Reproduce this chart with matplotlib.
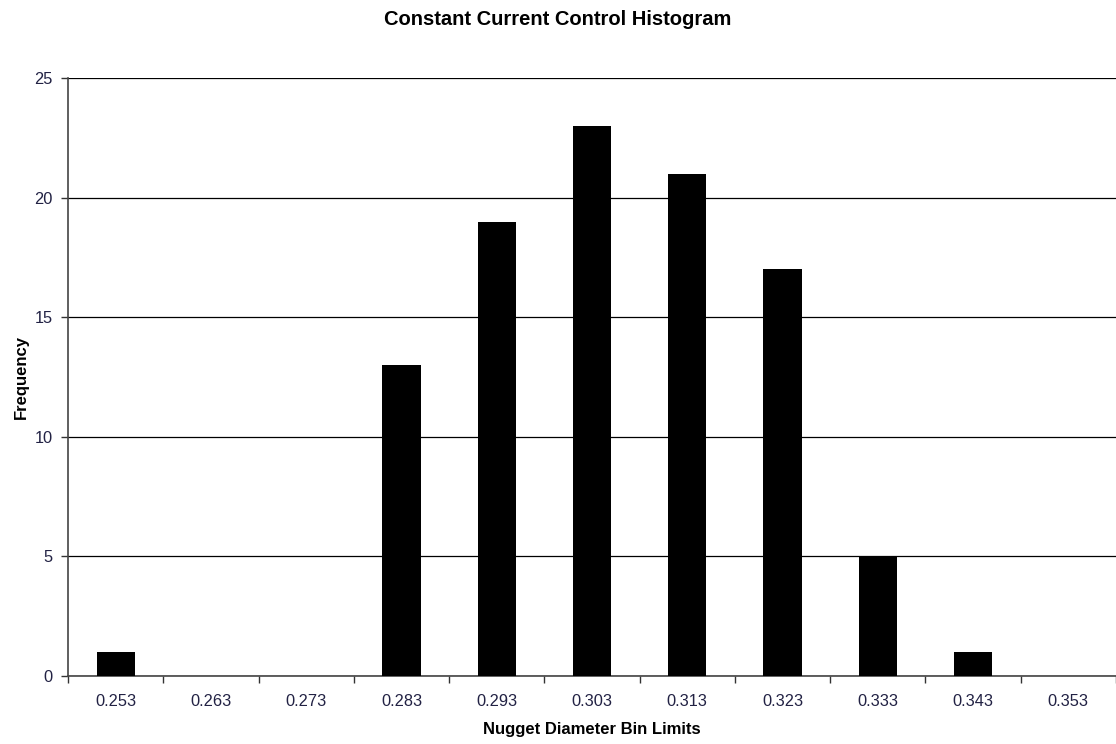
import matplotlib
matplotlib.use("Agg")
import matplotlib.pyplot as plt
import numpy as np

bins = ["0.253", "0.263", "0.273", "0.283", "0.293", "0.303", "0.313", "0.323", "0.333", "0.343", "0.353"]
freq = [1, 0, 0, 13, 19, 23, 21, 17, 5, 1, 0]

plt.rcParams['font.family'] = ['Liberation Sans', 'DejaVu Sans']

fig = plt.figure(figsize=(11.16, 7.44), dpi=100)
ax = fig.add_axes([68/1116, 68/744, 1 - 68/1116, (676-78)/744])

x = np.arange(len(bins))
ax.bar(x, freq, width=0.4, color='black', zorder=3)
ax.set_xlim(-0.5, len(bins) - 0.5)
ax.set_ylim(0, 25)
ax.set_yticks([0, 5, 10, 15, 20, 25])
ax.yaxis.grid(True, color='black', linewidth=0.9, zorder=0)
ax.set_axisbelow(True)

ax.set_xticks(np.arange(-0.5, len(bins) + 0.5, 1), minor=False)
ax.set_xticks(x, minor=True)
ax.set_xticklabels([])
ax.set_xticklabels(bins, minor=True)
ax.tick_params(axis='x', which='major', direction='out', length=5, width=1, color='#333333')
ax.tick_params(axis='x', which='minor', length=0, pad=13, labelsize=11.8, labelcolor='#222244')
ax.tick_params(axis='y', direction='out', length=5, width=1, color='#333333', labelsize=11.8, pad=6, labelcolor='#222244')

for s in ['top', 'right']:
    ax.spines[s].set_visible(False)
for s in ['left', 'bottom']:
    ax.spines[s].set_color('#444444')
    ax.spines[s].set_linewidth(1.2)

ax.set_xlabel('Nugget Diameter Bin Limits', fontsize=12, fontweight='bold', labelpad=9)
ax.set_ylabel('Frequency', fontsize=12, fontweight='bold', labelpad=4)
fig.suptitle('Constant Current Control Histogram', fontsize=14.5, fontweight='bold', y=0.987)

fig.savefig('out.png', dpi=100)
